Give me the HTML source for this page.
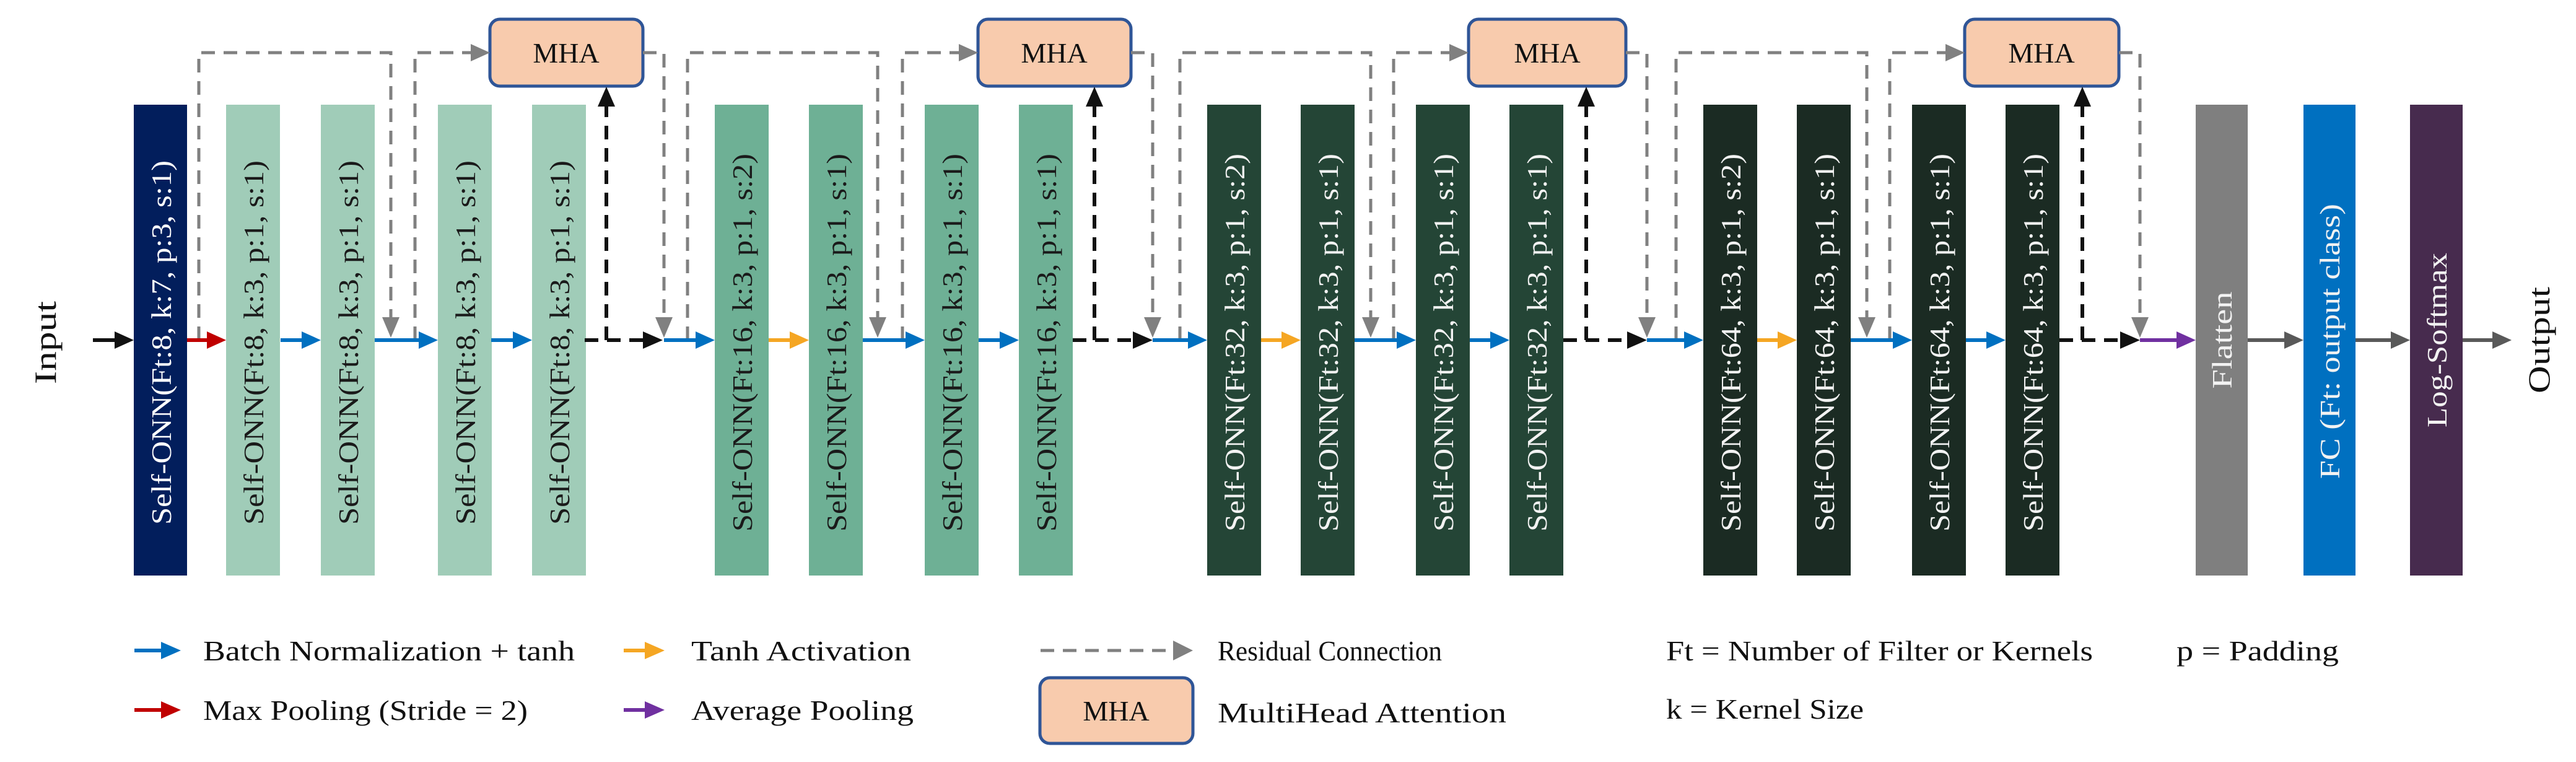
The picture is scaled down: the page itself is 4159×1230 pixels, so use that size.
<!DOCTYPE html>
<html><head><meta charset="utf-8"><style>
html,body{margin:0;padding:0;background:#fff}
svg{display:block}
text{font-family:"Liberation Serif",serif}
</style></head><body>
<svg width="4159" height="1230" viewBox="0 0 4159 1230" xmlns="http://www.w3.org/2000/svg">
<!-- blocks -->
<g>
<rect x="216" y="169" width="86" height="760" fill="#021E5C"/>
<rect x="365" y="169" width="87" height="760" fill="#A0CCB8"/>
<rect x="518" y="169" width="87" height="760" fill="#A0CCB8"/>
<rect x="707" y="169" width="87" height="760" fill="#A0CCB8"/>
<rect x="859" y="169" width="87" height="760" fill="#A0CCB8"/>
<rect x="1154" y="169" width="87" height="760" fill="#6EB095"/>
<rect x="1306" y="169" width="87" height="760" fill="#6EB095"/>
<rect x="1493" y="169" width="87" height="760" fill="#6EB095"/>
<rect x="1645" y="169" width="87" height="760" fill="#6EB095"/>
<rect x="1949" y="169" width="87" height="760" fill="#244536"/>
<rect x="2100" y="169" width="87" height="760" fill="#244536"/>
<rect x="2286" y="169" width="87" height="760" fill="#244536"/>
<rect x="2437" y="169" width="87" height="760" fill="#244536"/>
<rect x="2750" y="169" width="87" height="760" fill="#1B2B23"/>
<rect x="2901" y="169" width="87" height="760" fill="#1B2B23"/>
<rect x="3087" y="169" width="87" height="760" fill="#1B2B23"/>
<rect x="3238" y="169" width="87" height="760" fill="#1B2B23"/>
<rect x="3545" y="169" width="84" height="760" fill="#7F7F7F"/>
<rect x="3719" y="169" width="84" height="760" fill="#0070C0"/>
<rect x="3891" y="169" width="85" height="760" fill="#472B4E"/>
</g>
<!-- block texts -->
<g font-size="46" text-anchor="middle">
<text transform="translate(276,553) rotate(-90)" fill="#fff" textLength="588" lengthAdjust="spacingAndGlyphs">Self-ONN(Ft:8, k:7, p:3, s:1)</text>
<text transform="translate(425,553) rotate(-90)" fill="#1a1a1a" textLength="588" lengthAdjust="spacingAndGlyphs">Self-ONN(Ft:8, k:3, p:1, s:1)</text>
<text transform="translate(578,553) rotate(-90)" fill="#1a1a1a" textLength="588" lengthAdjust="spacingAndGlyphs">Self-ONN(Ft:8, k:3, p:1, s:1)</text>
<text transform="translate(767,553) rotate(-90)" fill="#1a1a1a" textLength="588" lengthAdjust="spacingAndGlyphs">Self-ONN(Ft:8, k:3, p:1, s:1)</text>
<text transform="translate(919,553) rotate(-90)" fill="#1a1a1a" textLength="588" lengthAdjust="spacingAndGlyphs">Self-ONN(Ft:8, k:3, p:1, s:1)</text>
<text transform="translate(1214,553) rotate(-90)" fill="#1a1a1a" textLength="610" lengthAdjust="spacingAndGlyphs">Self-ONN(Ft:16, k:3, p:1, s:2)</text>
<text transform="translate(1366,553) rotate(-90)" fill="#1a1a1a" textLength="610" lengthAdjust="spacingAndGlyphs">Self-ONN(Ft:16, k:3, p:1, s:1)</text>
<text transform="translate(1553,553) rotate(-90)" fill="#1a1a1a" textLength="610" lengthAdjust="spacingAndGlyphs">Self-ONN(Ft:16, k:3, p:1, s:1)</text>
<text transform="translate(1705,553) rotate(-90)" fill="#1a1a1a" textLength="610" lengthAdjust="spacingAndGlyphs">Self-ONN(Ft:16, k:3, p:1, s:1)</text>
<text transform="translate(2009,553) rotate(-90)" fill="#f2f2f2" textLength="610" lengthAdjust="spacingAndGlyphs">Self-ONN(Ft:32, k:3, p:1, s:2)</text>
<text transform="translate(2160,553) rotate(-90)" fill="#f2f2f2" textLength="610" lengthAdjust="spacingAndGlyphs">Self-ONN(Ft:32, k:3, p:1, s:1)</text>
<text transform="translate(2346,553) rotate(-90)" fill="#f2f2f2" textLength="610" lengthAdjust="spacingAndGlyphs">Self-ONN(Ft:32, k:3, p:1, s:1)</text>
<text transform="translate(2497,553) rotate(-90)" fill="#f2f2f2" textLength="610" lengthAdjust="spacingAndGlyphs">Self-ONN(Ft:32, k:3, p:1, s:1)</text>
<text transform="translate(2810,553) rotate(-90)" fill="#f2f2f2" textLength="610" lengthAdjust="spacingAndGlyphs">Self-ONN(Ft:64, k:3, p:1, s:2)</text>
<text transform="translate(2961,553) rotate(-90)" fill="#f2f2f2" textLength="610" lengthAdjust="spacingAndGlyphs">Self-ONN(Ft:64, k:3, p:1, s:1)</text>
<text transform="translate(3147,553) rotate(-90)" fill="#f2f2f2" textLength="610" lengthAdjust="spacingAndGlyphs">Self-ONN(Ft:64, k:3, p:1, s:1)</text>
<text transform="translate(3298,553) rotate(-90)" fill="#f2f2f2" textLength="610" lengthAdjust="spacingAndGlyphs">Self-ONN(Ft:64, k:3, p:1, s:1)</text>
<text transform="translate(3603,549) rotate(-90)" fill="#f2f2f2" textLength="157" lengthAdjust="spacingAndGlyphs">Flatten</text>
<text transform="translate(3777,551) rotate(-90)" fill="#f2f2f2" textLength="444" lengthAdjust="spacingAndGlyphs">FC (Ft: output class)</text>
<text transform="translate(3950,549) rotate(-90)" fill="#f2f2f2" textLength="282" lengthAdjust="spacingAndGlyphs">Log-Softmax</text>
<text transform="translate(90,553) rotate(-90)" fill="#111" font-size="50" textLength="134" lengthAdjust="spacingAndGlyphs">Input</text>
<text transform="translate(4116,549) rotate(-90)" fill="#111" font-size="50" textLength="172" lengthAdjust="spacingAndGlyphs">Output</text>
</g>

<!-- MHA boxes -->
<g fill="#F8CBAD" stroke="#2F5597" stroke-width="5">
<rect x="791" y="31" width="247" height="108" rx="16"/>
<rect x="1579" y="31" width="247" height="108" rx="16"/>
<rect x="2371" y="31" width="254" height="108" rx="16"/>
<rect x="3172" y="31" width="249" height="108" rx="16"/>
<rect x="1679" y="1094" width="247" height="106" rx="16"/>
</g>
<g font-size="46" text-anchor="middle" fill="#111">
<text x="914" y="101">MHA</text>
<text x="1702" y="101">MHA</text>
<text x="2498" y="101">MHA</text>
<text x="3296" y="101">MHA</text>
<text x="1802" y="1163">MHA</text>
</g>

<!-- grey residual dashed -->
<g fill="none" stroke="#808080" stroke-width="5" stroke-dasharray="22 14">
<path d="M321 549 V85 H631 V512"/>
<path d="M670 549 V85 H762"/>
<path d="M1038 85 H1072 V512"/>
<path d="M1110 549 V85 H1417 V512"/>
<path d="M1457 549 V85 H1550"/>
<path d="M1826 85 H1861 V512"/>
<path d="M1905 549 V85 H2213 V512"/>
<path d="M2250 549 V85 H2342"/>
<path d="M2625 85 H2659 V512"/>
<path d="M2706 549 V85 H3014 V512"/>
<path d="M3051 549 V85 H3143"/>
<path d="M3421 85 H3455 V512"/>
<path d="M1680 1050 H1895"/>
</g>
<g fill="#808080">
<polygon points="617,512 645,512 631,545"/>
<polygon points="1058,512 1086,512 1072,545"/>
<polygon points="1403,512 1431,512 1417,545"/>
<polygon points="1847,512 1875,512 1861,545"/>
<polygon points="2199,512 2227,512 2213,545"/>
<polygon points="2645,512 2673,512 2659,545"/>
<polygon points="3000,512 3028,512 3014,545"/>
<polygon points="3441,512 3469,512 3455,545"/>
<polygon points="760,71 791,85 760,99"/>
<polygon points="1548,71 1579,85 1548,99"/>
<polygon points="2340,71 2371,85 2340,99"/>
<polygon points="3141,71 3172,85 3141,99"/>
<polygon points="1894,1034 1926,1050 1894,1066"/>
</g>

<!-- black dashed -->
<g fill="none" stroke="#111" stroke-width="6" stroke-dasharray="22 14">
<path d="M944 549 H1040 M979 549 V172"/>
<path d="M1732 549 H1830 M1767 549 V172"/>
<path d="M2524 549 H2628 M2561 549 V172"/>
<path d="M3325 549 H3424 M3362 549 V172"/>
<path d="M150 549 H188" stroke-dasharray="none"/>
</g>
<g fill="#111">
<polygon points="1038,535 1070,549 1038,563"/>
<polygon points="965,172 993,172 979,140"/>
<polygon points="1829,535 1861,549 1829,563"/>
<polygon points="1753,172 1781,172 1767,140"/>
<polygon points="2627,535 2659,549 2627,563"/>
<polygon points="2547,172 2575,172 2561,140"/>
<polygon points="3423,535 3455,549 3423,563"/>
<polygon points="3348,172 3376,172 3362,140"/>
<polygon points="185,535 216,549 185,563"/>
</g>

<!-- solid colored arrows -->
<g stroke-width="6" fill="none">
<path d="M302 549 H336" stroke="#C00000"/>
<path d="M453 549 H490 M605 549 H680 M793 549 H830 M1072 549 H1126 M1393 549 H1466 M1580 549 H1618 M1861 549 H1922 M2187 549 H2258 M2373 549 H2410 M2659 549 H2722 M2988 549 H3060 M3174 549 H3210 M217 1050 H262" stroke="#0070C0"/>
<path d="M1241 549 H1278 M2036 549 H2072 M2837 549 H2873 M1007 1050 H1044" stroke="#F5A623"/>
<path d="M3455 549 H3516 M217 1146 H262 M1007 1146 H1044" stroke="#7030A0"/>
<path d="M217 1146 H262" stroke="#C00000"/>
<path d="M3629 549 H3690 M3803 549 H3862 M3976 549 H4026" stroke="#595959"/>
</g>
<g fill="#C00000"><polygon points="334,535 365,549 334,563"/><polygon points="260,1132 292,1146 260,1160"/></g>
<g fill="#0070C0">
<polygon points="487,535 518,549 487,563"/>
<polygon points="676,535 707,549 676,563"/>
<polygon points="828,535 859,549 828,563"/>
<polygon points="1123,535 1154,549 1123,563"/>
<polygon points="1462,535 1493,549 1462,563"/>
<polygon points="1614,535 1645,549 1614,563"/>
<polygon points="1918,535 1949,549 1918,563"/>
<polygon points="2255,535 2286,549 2255,563"/>
<polygon points="2406,535 2437,549 2406,563"/>
<polygon points="2719,535 2750,549 2719,563"/>
<polygon points="3056,535 3087,549 3056,563"/>
<polygon points="3207,535 3238,549 3207,563"/>
<polygon points="260,1036 292,1050 260,1064"/>
</g>
<g fill="#F5A623">
<polygon points="1275,535 1306,549 1275,563"/>
<polygon points="2069,535 2100,549 2069,563"/>
<polygon points="2870,535 2901,549 2870,563"/>
<polygon points="1041,1036 1073,1050 1041,1064"/>
</g>
<g fill="#7030A0">
<polygon points="3514,535 3545,549 3514,563"/>
<polygon points="1041,1132 1073,1146 1041,1160"/>
</g>
<g fill="#595959">
<polygon points="3688,535 3719,549 3688,563"/>
<polygon points="3860,535 3891,549 3860,563"/>
<polygon points="4024,535 4055,549 4024,563"/>
</g>

<!-- legend text -->
<g font-size="46" fill="#111" lengthAdjust="spacingAndGlyphs">
<text x="328" y="1066" textLength="600" lengthAdjust="spacingAndGlyphs">Batch Normalization + tanh</text>
<text x="328" y="1162" textLength="524" lengthAdjust="spacingAndGlyphs">Max Pooling (Stride = 2)</text>
<text x="1116" y="1066" textLength="355" lengthAdjust="spacingAndGlyphs">Tanh Activation</text>
<text x="1116" y="1162" textLength="359" lengthAdjust="spacingAndGlyphs">Average Pooling</text>
<text x="1966" y="1066" textLength="362" lengthAdjust="spacingAndGlyphs">Residual Connection</text>
<text x="1966" y="1166" textLength="466" lengthAdjust="spacingAndGlyphs">MultiHead Attention</text>
<text x="2690" y="1066" textLength="689" lengthAdjust="spacingAndGlyphs">Ft = Number of Filter or Kernels</text>
<text x="2690" y="1160" textLength="319" lengthAdjust="spacingAndGlyphs">k = Kernel Size</text>
<text x="3514" y="1066" textLength="262" lengthAdjust="spacingAndGlyphs">p = Padding</text>
</g>
</svg>
</body></html>
